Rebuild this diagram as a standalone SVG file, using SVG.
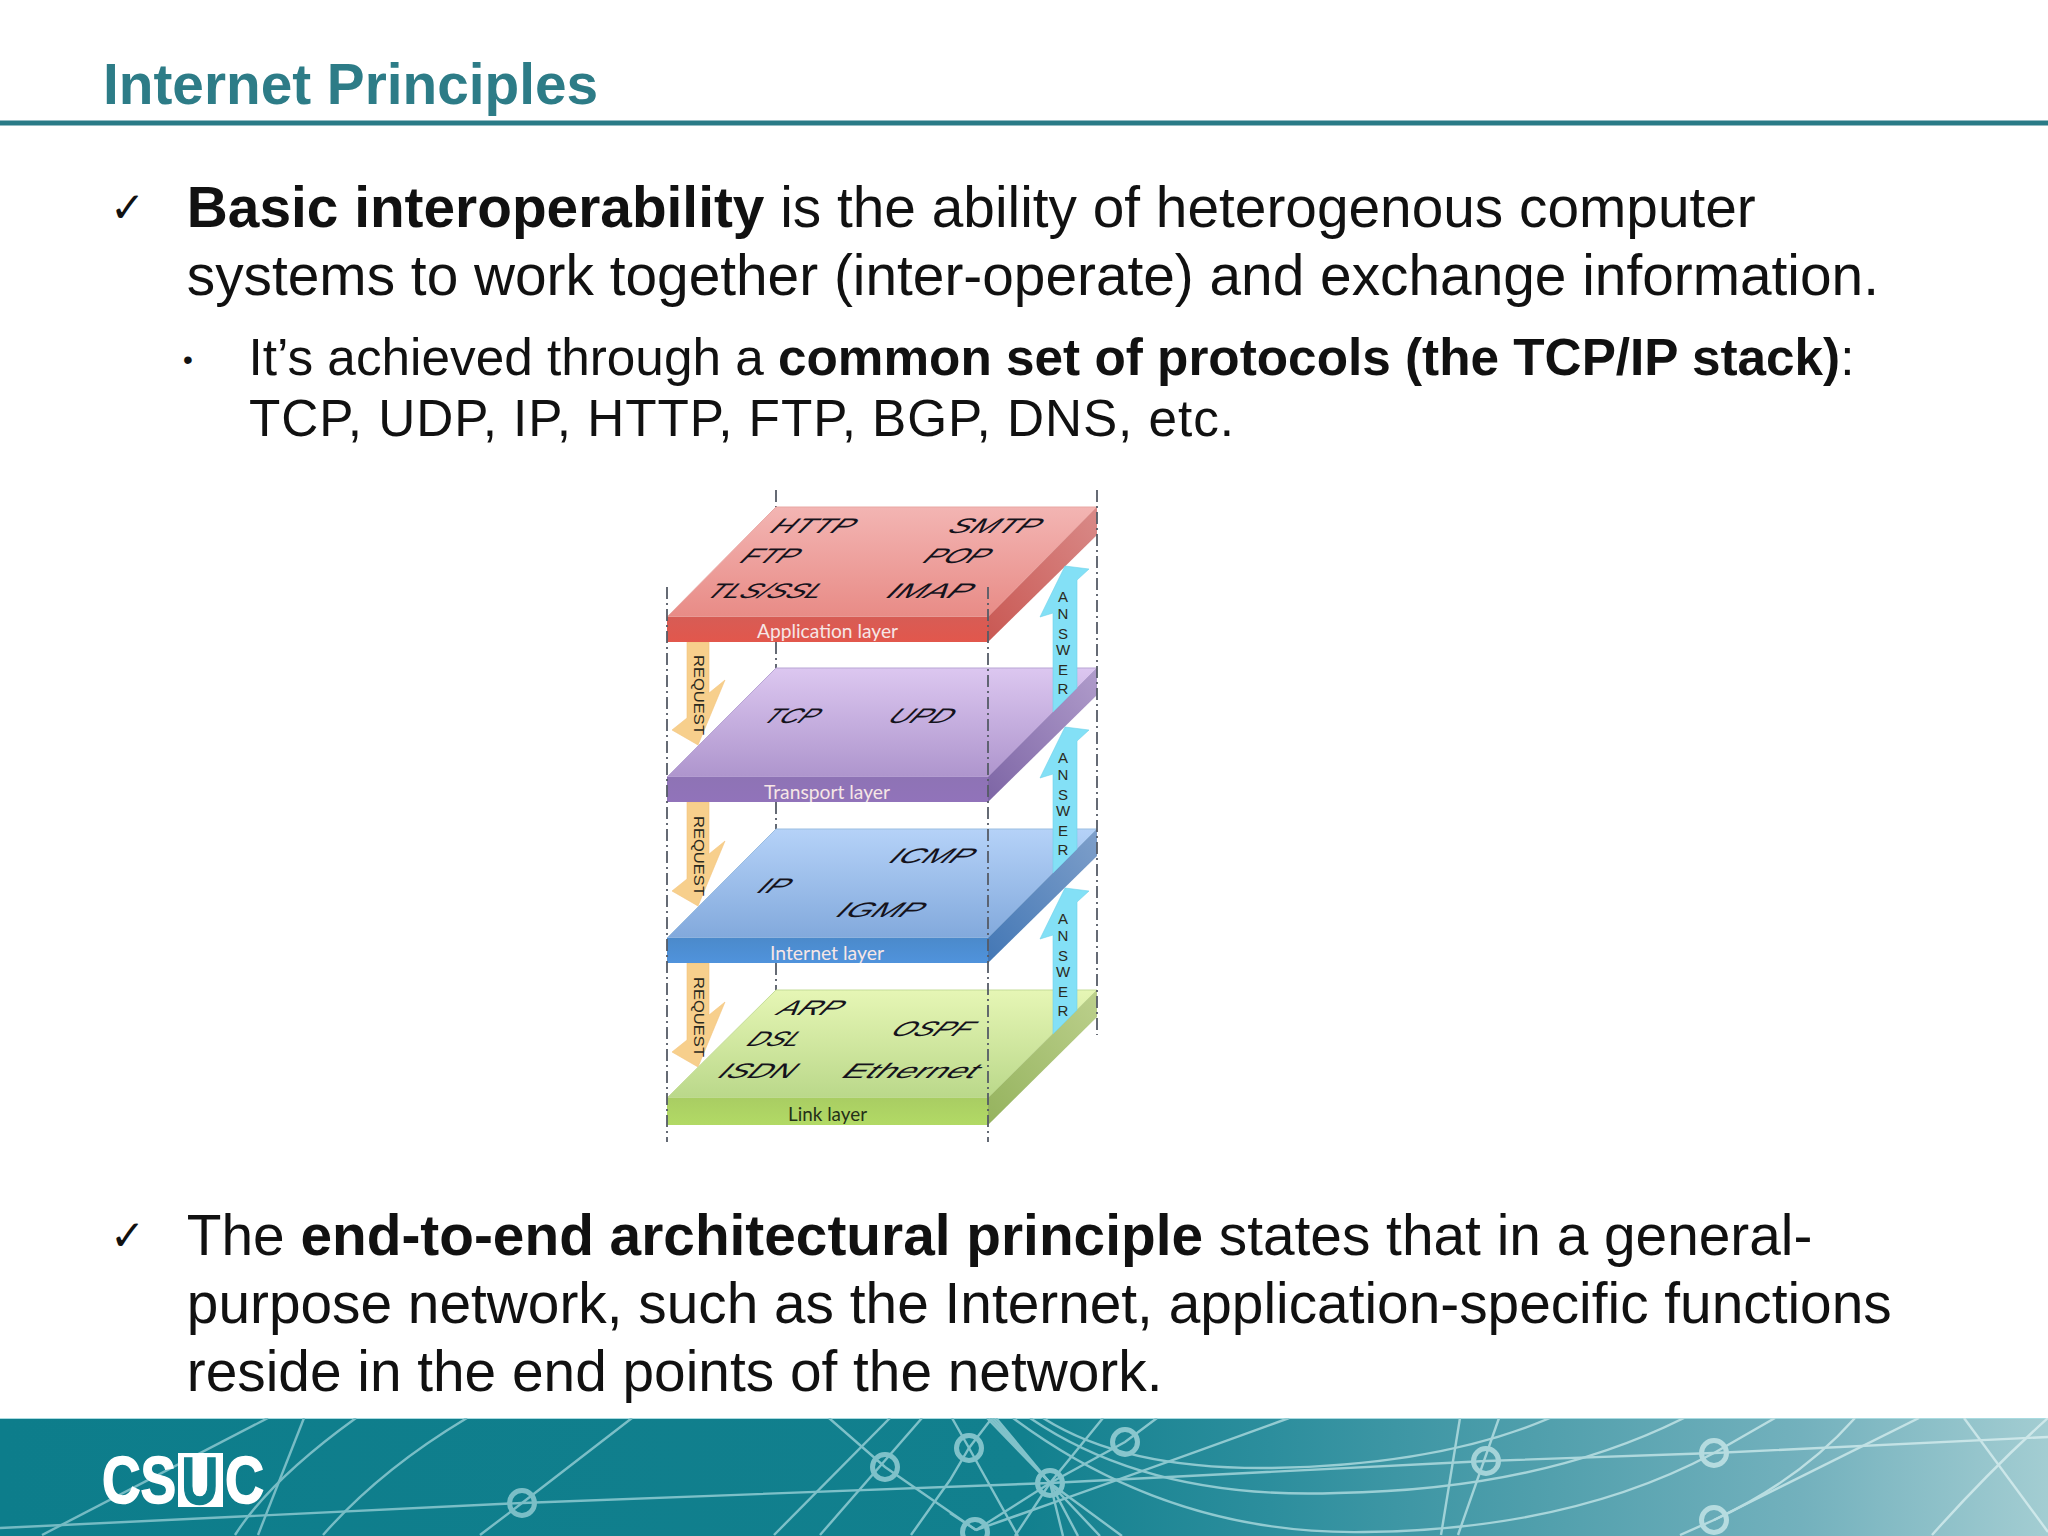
<svg xmlns="http://www.w3.org/2000/svg" width="2048" height="1536" viewBox="0 0 2048 1536">
<style>
.b{font-family:"Liberation Sans",Arial,sans-serif;fill:#111}
.l1{font-size:56.8px}
.l2{font-size:51.3px}
.h{font-weight:700}
.ck{font-family:"DejaVu Sans",sans-serif;font-size:42px;fill:#111}
.p{font-family:"Liberation Sans",Arial,sans-serif;font-size:21px;fill:#15131c}
.ll{font-family:Lato,"Open Sans",sans-serif;font-size:20px;fill:#f6e6e6}
.dd{stroke:#555b66;stroke-width:1.8;stroke-dasharray:12 4 2 4;fill:none}
.req{fill:#f7cf8c;stroke:#f3c47e;stroke-width:.6}
.ans{fill:#83e0f6;stroke:#6fd2ea;stroke-width:.6}
.tv{font-family:"Liberation Sans",Arial,sans-serif;font-size:15px;fill:#2a2a20}
.net{fill:none;stroke:url(#ln);stroke-width:2.4}
.nd{fill:none;stroke:url(#ln);stroke-width:5}
.lg{font-family:"Liberation Sans",Arial,sans-serif;font-weight:700;font-size:66px;fill:#fff;stroke:#fff;stroke-width:1.5}
</style>
<defs>
<linearGradient id="bg" x1="0" x2="2048" y1="0" y2="0" gradientUnits="userSpaceOnUse">
<stop offset="0" stop-color="#0d7d8b"/><stop offset=".5" stop-color="#12808e"/><stop offset=".62" stop-color="#2c8e9d"/><stop offset=".75" stop-color="#509fac"/><stop offset=".88" stop-color="#73b1bd"/><stop offset="1" stop-color="#a3cdd2"/>
</linearGradient>
<linearGradient id="ln" x1="0" x2="2048" y1="0" y2="0" gradientUnits="userSpaceOnUse">
<stop offset="0" stop-color="#74bac3"/><stop offset=".5" stop-color="#80c2ca"/><stop offset="1" stop-color="#cfe8ea"/>
</linearGradient>
<linearGradient id="ta" x1="0" x2="0" y1="0" y2="1"><stop offset="0" stop-color="#f3b5b3"/><stop offset="1" stop-color="#e88b86"/></linearGradient>
<linearGradient id="fa" x1="0" x2="0" y1="0" y2="1"><stop offset="0" stop-color="#d75c55"/><stop offset="1" stop-color="#e2574c"/></linearGradient>
<linearGradient id="sa" x1="0" x2="1" y1="1" y2="0"><stop offset="0" stop-color="#c95853"/><stop offset="1" stop-color="#d98a88"/></linearGradient>
<linearGradient id="tt" x1="0" x2="0" y1="0" y2="1"><stop offset="0" stop-color="#dcc7f0"/><stop offset="1" stop-color="#ae95cd"/></linearGradient>
<linearGradient id="ft" x1="0" x2="0" y1="0" y2="1"><stop offset="0" stop-color="#8e73b5"/><stop offset="1" stop-color="#9173ba"/></linearGradient>
<linearGradient id="st" x1="0" x2="1" y1="1" y2="0"><stop offset="0" stop-color="#7d65a5"/><stop offset="1" stop-color="#b09ccb"/></linearGradient>
<linearGradient id="ti" x1="0" x2="0" y1="0" y2="1"><stop offset="0" stop-color="#b5d2f8"/><stop offset="1" stop-color="#82a9dc"/></linearGradient>
<linearGradient id="fi" x1="0" x2="0" y1="0" y2="1"><stop offset="0" stop-color="#4b8acb"/><stop offset="1" stop-color="#5093dc"/></linearGradient>
<linearGradient id="si" x1="0" x2="1" y1="1" y2="0"><stop offset="0" stop-color="#4377b5"/><stop offset="1" stop-color="#7e9fca"/></linearGradient>
<linearGradient id="tl" x1="0" x2="0" y1="0" y2="1"><stop offset="0" stop-color="#e6f6b5"/><stop offset="1" stop-color="#bad88a"/></linearGradient>
<linearGradient id="fl" x1="0" x2="0" y1="0" y2="1"><stop offset="0" stop-color="#a9cd63"/><stop offset="1" stop-color="#b2da65"/></linearGradient>
<linearGradient id="sl" x1="0" x2="1" y1="1" y2="0"><stop offset="0" stop-color="#95b35e"/><stop offset="1" stop-color="#bcd08c"/></linearGradient>
<clipPath id="bn"><rect x="0" y="1418" width="2048" height="118"/></clipPath>
</defs>
<rect width="2048" height="1536" fill="#fff"/>

<g id="header">
<text x="103" y="103.700" font-family="Liberation Sans,Arial,sans-serif" font-weight="700" font-size="56.750" fill="#2d7c87">Internet Principles</text>
<rect x="0" y="120.500" width="2048" height="5" fill="#2a7b87"/>
</g>

<g id="text-top">
<text class="ck" x="110" y="222">✓</text>
<text class="b l1" x="186.800" y="226.500"><tspan class="h">Basic interoperability</tspan> is the ability of heterogenous computer</text>
<text class="b l1" x="186.800" y="294.500">systems to work together (inter-operate) and exchange information.</text>
<text class="b" x="183" y="369" font-size="28">•</text>
<text class="b l2" x="248.500" y="374.800">It’s achieved through a <tspan class="h">common set of protocols (the TCP/IP stack)</tspan>:</text>
<text class="b l2" x="249" y="436" textLength="985" lengthAdjust="spacing">TCP, UDP, IP, HTTP, FTP, BGP, DNS, etc.</text>
</g>

<g id="connectors">
<g id="guides-back">
<line class="dd" x1="776" y1="490" x2="776" y2="507"/>
<line class="dd" x1="776" y1="642" x2="776" y2="668"/>
<line class="dd" x1="776" y1="802" x2="776" y2="829"/>
<line class="dd" x1="776" y1="963" x2="776" y2="990"/>
</g>
<g id="request-arrows">
<polygon class="req" points="687,642 709,642 709,693 725,680 698,745 672,730 687,718"/>
<polygon class="req" points="687,802 709,802 709,854 725,841 698,906 672,891 687,879"/>
<polygon class="req" points="687,963 709,963 709,1015 725,1002 698,1067 672,1052 687,1040"/>
</g>
</g>

<g id="link-layer">
<polygon points="776,990 1097,990 988,1098 667,1098" fill="url(#tl)" stroke="#c4dc98" stroke-width="1"/>
<polygon points="1097,990 1097,1017 988,1125 988,1098" fill="url(#sl)"/>
<rect x="667" y="1098" width="321" height="27" fill="url(#fl)"/>
<text class="ll" x="788" y="1121" textLength="79" lengthAdjust="spacingAndGlyphs" style="fill:#243018">Link layer</text>
<g transform="translate(774,1015) skewX(-45)"><text class="p" textLength="62" lengthAdjust="spacingAndGlyphs">ARP</text></g>
<g transform="translate(888,1036) skewX(-45)"><text class="p" textLength="78" lengthAdjust="spacingAndGlyphs">OSPF</text></g>
<g transform="translate(744,1046) skewX(-45)"><text class="p" textLength="51" lengthAdjust="spacingAndGlyphs">DSL</text></g>
<g transform="translate(715,1078) skewX(-45)"><text class="p" textLength="74" lengthAdjust="spacingAndGlyphs">ISDN</text></g>
<g transform="translate(839,1078) skewX(-45)"><text class="p" textLength="133" lengthAdjust="spacingAndGlyphs">Ethernet</text></g>
</g>

<g id="internet-layer">
<polygon points="776,829 1097,829 988,938 667,938" fill="url(#ti)" stroke="#9bbde0" stroke-width="1"/>
<polygon points="1097,829 1097,856 988,963 988,938" fill="url(#si)"/>
<rect x="667" y="938" width="321" height="25" fill="url(#fi)"/>
<text class="ll" x="770" y="960" textLength="114" lengthAdjust="spacingAndGlyphs">Internet layer</text>
<g transform="translate(886,863) skewX(-45)"><text class="p" textLength="81" lengthAdjust="spacingAndGlyphs">ICMP</text></g>
<g transform="translate(754,893) skewX(-45)"><text class="p" textLength="29" lengthAdjust="spacingAndGlyphs">IP</text></g>
<g transform="translate(833,917) skewX(-45)"><text class="p" textLength="84" lengthAdjust="spacingAndGlyphs">IGMP</text></g>
</g>

<g id="transport-layer">
<polygon points="776,668 1097,668 988,777 667,777" fill="url(#tt)" stroke="#b8a5d4" stroke-width="1"/>
<polygon points="1097,668 1097,695 988,802 988,777" fill="url(#st)"/>
<rect x="667" y="777" width="321" height="25" fill="url(#ft)"/>
<text class="ll" x="764" y="799" textLength="126" lengthAdjust="spacingAndGlyphs">Transport layer</text>
<g transform="translate(760,723) skewX(-45)"><text class="p" textLength="52" lengthAdjust="spacingAndGlyphs">TCP</text></g>
<g transform="translate(885,723) skewX(-45)"><text class="p" textLength="62" lengthAdjust="spacingAndGlyphs">UPD</text></g>
</g>

<g id="application-layer">
<polygon points="776,507 1097,507 988,617 667,617" fill="url(#ta)" stroke="#e8a8a4" stroke-width="1"/>
<polygon points="1097,507 1097,535 988,642 988,617" fill="url(#sa)"/>
<rect x="667" y="617" width="321" height="25" fill="url(#fa)"/>
<text class="ll" x="757" y="638" textLength="141" lengthAdjust="spacingAndGlyphs">Application layer</text>
<g transform="translate(767,533) skewX(-45)"><text class="p" textLength="81" lengthAdjust="spacingAndGlyphs">HTTP</text></g>
<g transform="translate(945,533) skewX(-45)"><text class="p" textLength="89" lengthAdjust="spacingAndGlyphs">SMTP</text></g>
<g transform="translate(737,563) skewX(-45)"><text class="p" textLength="55" lengthAdjust="spacingAndGlyphs">FTP</text></g>
<g transform="translate(920,563) skewX(-45)"><text class="p" textLength="63" lengthAdjust="spacingAndGlyphs">POP</text></g>
<g transform="translate(703,598) skewX(-45)"><text class="p" textLength="114" lengthAdjust="spacingAndGlyphs">TLS/SSL</text></g>
<g transform="translate(883,598) skewX(-45)"><text class="p" textLength="83" lengthAdjust="spacingAndGlyphs">IMAP</text></g>
</g>

<g id="answer-arrows">
<polygon class="ans" points="1053,712 1053,613 1040,617 1065,566 1089,569 1077,580 1077,688"/>
<polygon class="ans" points="1053,873 1053,774 1040,778 1065,727 1089,730 1077,741 1077,849"/>
<polygon class="ans" points="1053,1034 1053,935 1040,939 1065,888 1089,891 1077,902 1077,1010"/>
<text class="tv" text-anchor="middle" x="1063 1063 1063 1063 1063 1063" y="602 619 639 655 675 694">ANSWER</text>
<text class="tv" text-anchor="middle" x="1063 1063 1063 1063 1063 1063" y="763 780 800 816 836 855">ANSWER</text>
<text class="tv" text-anchor="middle" x="1063 1063 1063 1063 1063 1063" y="924 941 961 977 997 1016">ANSWER</text>
<g transform="translate(694,655) rotate(90)"><text class="tv" textLength="80" lengthAdjust="spacingAndGlyphs">REQUEST</text></g>
<g transform="translate(694,816) rotate(90)"><text class="tv" textLength="80" lengthAdjust="spacingAndGlyphs">REQUEST</text></g>
<g transform="translate(694,977) rotate(90)"><text class="tv" textLength="80" lengthAdjust="spacingAndGlyphs">REQUEST</text></g>
</g>

<g id="guides-front">
<line class="dd" x1="667" y1="587" x2="667" y2="1142"/>
<line class="dd" x1="988" y1="587" x2="988" y2="1142"/>
<line class="dd" x1="1097" y1="490" x2="1097" y2="1035"/>
</g>

<g id="text-bottom">
<text class="ck" x="110" y="1250">✓</text>
<text class="b l1" x="186.800" y="1254.700">The <tspan class="h">end-to-end architectural principle</tspan> states that in a general-</text>
<text class="b l1" x="186.800" y="1322.700">purpose network, such as the Internet, application-specific functions</text>
<text class="b l1" x="186.800" y="1390.700">reside in the end points of the network.</text>
</g>

<g id="footer">
<rect x="0" y="1418" width="2048" height="118" fill="url(#bg)"/>
<line x1="0" y1="1418.500" x2="2048" y2="1418.500" stroke="#a9dbe0" stroke-width="1"/>
<g clip-path="url(#bn)">
<path class="net" d="M0,1528 L522,1503 L1050,1483 L1486,1461 L1714,1453 L2048,1437"/>
<path class="net" d="M268,1418 L42,1535"/>
<path class="net" d="M304,1418 L258,1535"/>
<path class="net" d="M356,1418 Q270,1480 235,1535"/>
<path class="net" d="M467,1418 Q380,1470 323,1535"/>
<path class="net" d="M632,1418 L522,1503 L480,1535"/>
<path class="net" d="M829,1418 L885,1467 L976,1530"/>
<path class="net" d="M890,1418 L774,1535"/>
<path class="net" d="M922,1418 L820,1535"/>
<path class="net" d="M952,1418 L969,1448 L1018,1536"/>
<path class="net" d="M992,1418 L969,1448 L950,1480 L911,1535"/>
<path class="net" d="M1103,1418 L1050,1483 L1015,1536"/>
<path class="net" d="M1157,1418 L1125,1442 L1050,1483 L976,1530"/>
<path class="net" d="M1289,1418 Q1160,1465 976,1530"/>
<path class="net" d="M1043,1418 Q1125,1470 1272,1468 Q1440,1465 1550,1418"/>
<path class="net" d="M1030,1418 Q1150,1500 1337,1493 Q1540,1490 1684,1418"/>
<path class="net" d="M1013,1418 Q1170,1535 1364,1532 Q1570,1530 1714,1453 L1775,1418"/>
<path class="net" d="M1460,1418 L1441,1535"/>
<path class="net" d="M1499,1418 L1458,1535"/>
<path class="net" d="M1855,1418 Q1800,1480 1714,1520 L1680,1535"/>
<path class="net" d="M1919,1418 L1714,1520"/>
<path class="net" d="M1964,1418 L2048,1532"/>
<path class="net" d="M2048,1418 Q1990,1470 1932,1535"/>
<path class="net" d="M987,1418 L1050,1483 L1063,1536"/>
<path class="net" d="M990,1418 L1050,1483 L1078,1536"/>
<path class="net" d="M993,1418 L1050,1483 L1100,1536"/>
<path class="net" d="M996,1418 L1050,1483 L1122,1536"/>
<path class="net" d="M950,1513 L976,1530"/>
<circle class="nd" cx="522" cy="1503" r="12.500"/>
<circle class="nd" cx="885" cy="1467" r="12.500"/>
<circle class="nd" cx="969" cy="1448" r="12.500"/>
<circle class="nd" cx="975" cy="1532" r="12.500"/>
<circle class="nd" cx="1050" cy="1483" r="12.500"/>
<circle class="nd" cx="1125" cy="1442" r="12.500"/>
<circle class="nd" cx="1486" cy="1461" r="12.500"/>
<circle class="nd" cx="1714" cy="1453" r="12.500"/>
<circle class="nd" cx="1714" cy="1520" r="12.500"/>
</g>
<g id="logo">
<rect x="178" y="1453" width="45" height="54" fill="#fff"/>
<text class="lg" transform="translate(102,1503) scale(.81,1)">CS</text>
<text transform="translate(181.500,1504) scale(.77,1)" font-family="Liberation Sans,Arial,sans-serif" font-weight="700" font-size="66" fill="#0f7f8c" stroke="#0f7f8c" stroke-width="1.500">U</text>
<text class="lg" transform="translate(225,1503) scale(.82,1)">C</text>
</g>
</g>
</svg>
